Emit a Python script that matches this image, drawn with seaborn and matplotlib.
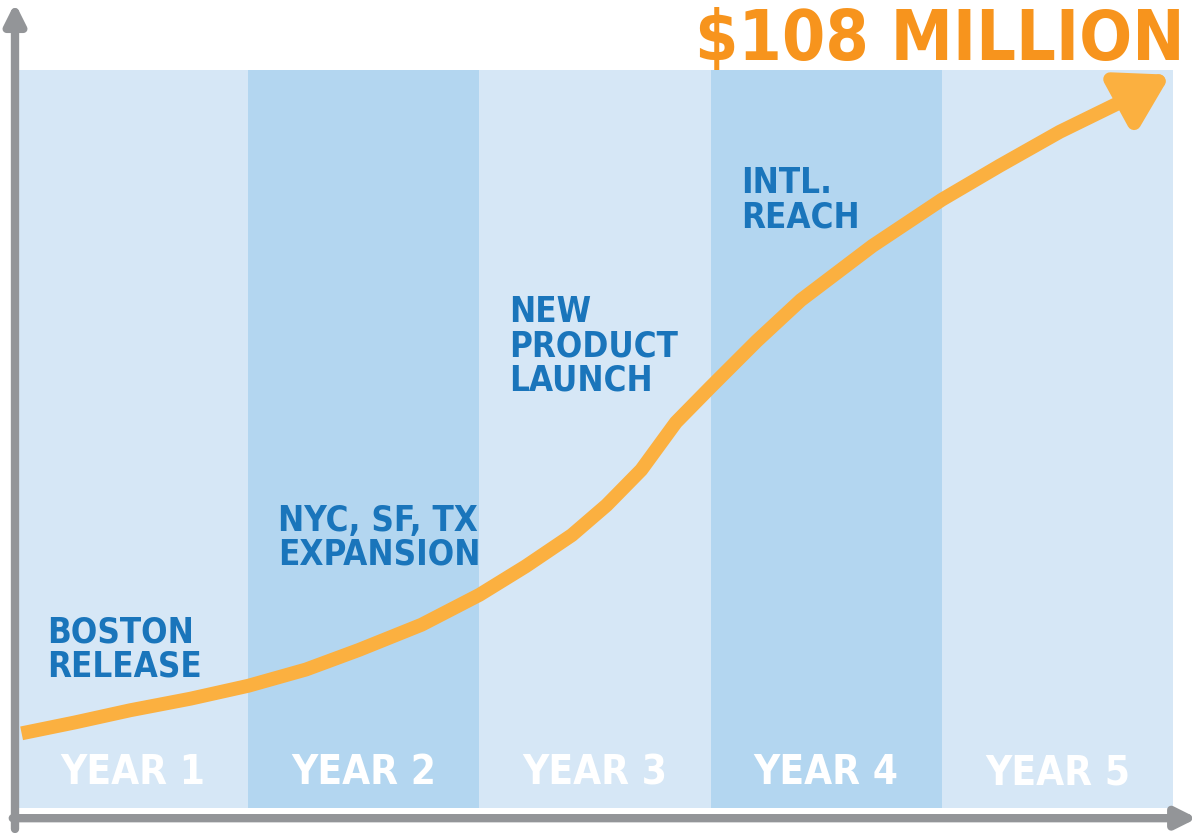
import numpy as np
import pandas as pd
import seaborn as sns
import matplotlib.pyplot as plt

years = ["YEAR 1", "YEAR 2", "YEAR 3", "YEAR 4", "YEAR 5"]
milestones = ["BOSTON\nRELEASE", "NYC, SF, TX\nEXPANSION", "NEW\nPRODUCT\nLAUNCH", "INTL.\nREACH"]
milestone_y = [28.3, 44.8, 75.5, 94.5]
curve_x = [0.02, 0.25, 0.49, 0.75, 1.0, 1.25, 1.48, 1.75, 2.0, 2.2, 2.4, 2.55, 2.7, 2.85,
           3.0, 3.2, 3.39, 3.7, 4.0, 4.25, 4.51, 4.75, 4.9]
curve_y = [11.0, 12.6, 14.4, 16.1, 18.0, 20.4, 23.3, 27.0, 31.4, 35.6, 40.2, 44.6, 49.8, 56.8,
           62.0, 68.8, 74.8, 82.8, 89.6, 94.6, 99.6, 103.6, 106.0]
title = "$108 MILLION"

sns.set_style("white")
plt.rcParams['font.family'] = ['DejaVu Sans']
cond = dict(fontstretch="condensed", fontweight="bold")

fig = plt.figure(figsize=(12, 8.33), dpi=100)
ax = fig.add_axes([0, 0, 1, 1])
sx = 1 / 231.2
sy = 0.1473
ax.set_xlim(-17 * sx, 1183 * sx)
ax.set_ylim(-25 * sy, 808 * sy)
ax.axis("off")

band_colors = ["#d6e7f6", "#b3d6f0"]
for i, lab in enumerate(years):
    ax.add_patch(plt.Rectangle((i, 0), 1, 108.7, color=band_colors[i % 2], zorder=0, lw=0))
    ax.text(i + 0.5, 5.1, lab, color="white", fontsize=29, ha="center", va="center", **cond)

for i, (m, yv) in enumerate(zip(milestones, milestone_y)):
    ax.text(i + 0.13, yv, m, color="#1a75bb", fontsize=25, ha="left", va="top",
            linespacing=1.0, **cond)

df = pd.DataFrame({"x": curve_x, "y": curve_y})
sns.lineplot(data=df, x="x", y="y", ax=ax, color="#fbb040", lw=10, zorder=3,
             solid_capstyle="butt", solid_joinstyle="round")
ax.annotate("", xy=(5.0, 108.2), xytext=(4.86, 105.6),
            arrowprops=dict(arrowstyle="-|>,head_length=0.5,head_width=0.3",
                            color="#fbb040", lw=10, mutation_scale=60), zorder=4)

gray = "#939598"
ax.annotate("", xy=(-2 * sx, 119), xytext=(-2 * sx, -3.5),
            arrowprops=dict(arrowstyle="-|>,head_length=1.2,head_width=0.6", color=gray, lw=6))
ax.annotate("", xy=(1183 * sx, -1.5), xytext=(-7 * sx, -1.5),
            arrowprops=dict(arrowstyle="-|>,head_length=1.2,head_width=0.6", color=gray, lw=6))

ax.text(5.05, 113, title, color="#f7941d", fontsize=50, ha="right", va="center", **cond)

fig.savefig("out.png", dpi=100)
